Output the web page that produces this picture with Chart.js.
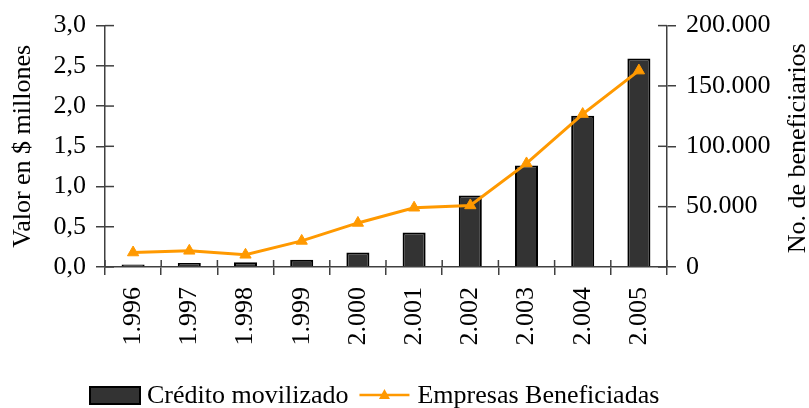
<!DOCTYPE html>
<html><head><meta charset="utf-8">
<script src="https://cdn.jsdelivr.net/npm/chart.js@4/dist/chart.umd.min.js"></script>
<style>html,body{margin:0;padding:0;background:#fff}#wrap{width:809px;height:408px}</style>
</head><body><div id="wrap"><canvas id="c" width="809" height="408"></canvas></div>
<script>
const categories = ['1.996','1.997','1.998','1.999','2.000','2.001','2.002','2.003','2.004','2.005'];
const creditoMovilizado = [0.03,0.05,0.06,0.09,0.18,0.43,0.89,1.26,1.88,2.59];
const empresasBeneficiadas = [12000,13400,10100,21600,36500,49100,51000,85800,126700,162700];
const leftTicks = [0,0.5,1,1.5,2,2.5,3];
const rightTicks = [0,50000,100000,150000,200000];
const leftTitle = 'Valor en $ millones';
const rightTitle = 'No. de beneficiarios';

const FONT = '"Liberation Serif", "Times New Roman", serif';
const FS = 26;
const ORANGE = '#FF9900';
const BAR = '#333333';
const AXIS = '#404040';

const extras = {
  id:'extras',
  afterDraw(chart){
    const ctx=chart.ctx, a=chart.chartArea;
    ctx.save();
    ctx.strokeStyle=AXIS;ctx.lineWidth=1.5;
    const yl=chart.scales.y, yr=chart.scales.y1, xs=chart.scales.x;
    yl.ticks.forEach((t,i)=>{const y=yl.getPixelForTick(i);ctx.beginPath();ctx.moveTo(a.left,y);ctx.lineTo(a.left+9,y);ctx.stroke();});
    yr.ticks.forEach((t,i)=>{const y=yr.getPixelForTick(i);ctx.beginPath();ctx.moveTo(a.right-9,y);ctx.lineTo(a.right,y);ctx.stroke();});
    for(let i=0;i<=categories.length;i++){const x=xs.left+(xs.right-xs.left)*i/categories.length;ctx.beginPath();ctx.moveTo(x,a.bottom-7);ctx.lineTo(x,a.bottom);ctx.stroke();}
    ctx.fillStyle='#000';ctx.font=FS+'px '+FONT;ctx.textAlign='center';ctx.textBaseline='middle';
    ctx.save();ctx.translate(798,(a.top+a.bottom)/2+2);ctx.rotate(-Math.PI/2);ctx.fillText(rightTitle,0,0);ctx.restore();
    const ds=chart.data.datasets;
    const barDs=ds.find(d=>d.type==='bar'), lineDs=ds.find(d=>d.type==='line');
    const cy=395;
    let x=90;
    ctx.fillStyle=BAR;ctx.fillRect(x,cy-8,50,17);
    ctx.strokeStyle='#000';ctx.lineWidth=2;ctx.strokeRect(x,cy-8,50,17);
    x+=57;
    ctx.fillStyle='#000';ctx.textAlign='left';ctx.textBaseline='middle';
    ctx.fillText(barDs.label,x,cy+1);
    x+=ctx.measureText(barDs.label).width+11;
    ctx.strokeStyle=ORANGE;ctx.lineWidth=2.5;ctx.beginPath();ctx.moveTo(x,cy);ctx.lineTo(x+50,cy);ctx.stroke();
    ctx.fillStyle=ORANGE;ctx.beginPath();ctx.moveTo(x+25,cy-6);ctx.lineTo(x+30.5,cy+4);ctx.lineTo(x+19.5,cy+4);ctx.closePath();ctx.fill();
    x+=58;
    ctx.fillStyle='#000';ctx.fillText(lineDs.label,x,cy+1);
    ctx.restore();
  }
};

new Chart(document.getElementById('c'),{
  data:{labels:categories,datasets:[
    {type:'line',label:'Empresas Beneficiadas',data:empresasBeneficiadas,yAxisID:'y1',borderColor:ORANGE,backgroundColor:ORANGE,borderWidth:3,pointStyle:'triangle',pointRadius:6.5,pointBackgroundColor:ORANGE,pointBorderColor:ORANGE,pointBorderWidth:1,tension:0,order:0},
    {type:'bar',label:'Crédito movilizado',data:creditoMovilizado,yAxisID:'y',backgroundColor:BAR,borderColor:'#000',borderWidth:2,categoryPercentage:0.41,barPercentage:1,order:1}
  ]},
  options:{
    responsive:false,animation:false,devicePixelRatio:1,
    layout:{padding:{top:24,left:0,right:0,bottom:46}},
    plugins:{tooltip:{enabled:false},legend:{display:false}},
    scales:{
      x:{offset:true,border:{color:AXIS,width:1.5},
        afterFit(s){s.height=95;},
        grid:{display:true,offset:true,drawOnChartArea:false,drawTicks:true,tickLength:8,color:AXIS,lineWidth:1.5},
        ticks:{font:{family:FONT,size:FS},color:'#000',minRotation:90,maxRotation:90,autoSkip:false,padding:12}},
      y:{position:'left',min:0,max:3,afterBuildTicks(s){s.ticks=leftTicks.map(v=>({value:v}));},
        afterFit(s){s.width=105;},
        border:{color:AXIS,width:1.5},
        grid:{drawOnChartArea:false,tickLength:9,color:AXIS,lineWidth:1.5},
        ticks:{font:{family:FONT,size:FS},color:'#000',padding:10,callback:v=>v.toFixed(1).replace('.',',')},
        title:{display:true,text:leftTitle,font:{family:FONT,size:FS},color:'#000',padding:{top:8,bottom:0}}},
      y1:{position:'right',min:0,max:200000,afterBuildTicks(s){s.ticks=rightTicks.map(v=>({value:v}));},
        afterFit(s){s.width=142;},
        border:{color:AXIS,width:1.5},
        grid:{drawOnChartArea:false,tickLength:9,color:AXIS,lineWidth:1.5},
        ticks:{font:{family:FONT,size:FS},color:'#000',padding:10,callback:v=>v===0?'0':v.toLocaleString('de-DE')}}
    }
  },
  plugins:[extras]
});
</script></body></html>
